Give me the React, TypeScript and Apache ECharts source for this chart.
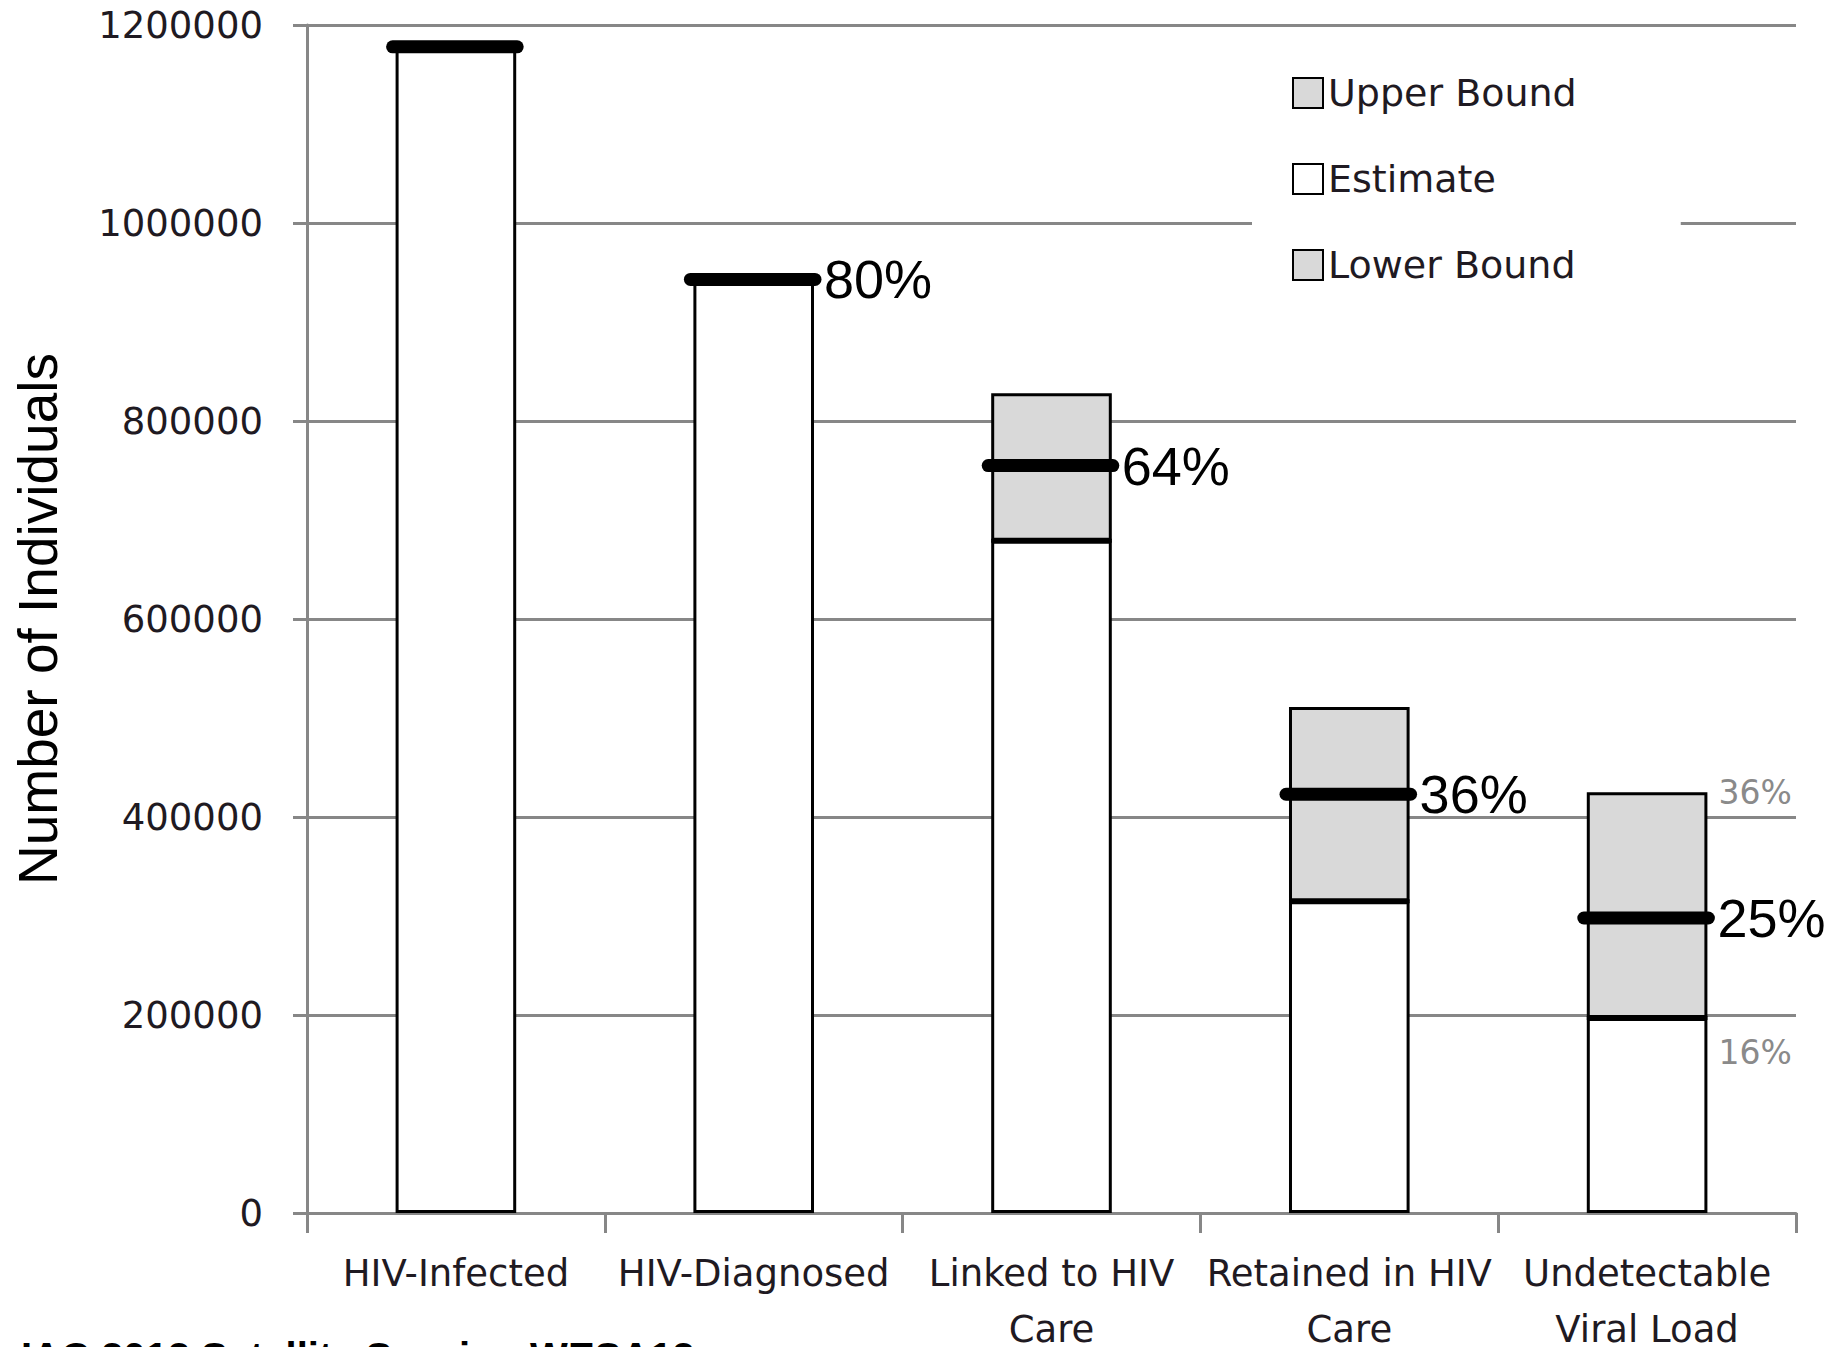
import React, { useEffect, useRef } from "react";
import * as echarts from "echarts";

const categories = [
  "HIV-Infected",
  "HIV-Diagnosed",
  "Linked to HIV\nCare",
  "Retained in HIV\nCare",
  "Undetectable\nViral Load",
];
const estimate = [1178000, 943000, 755000, 423000, 298000];
const lowerBound = [1178000, 943000, 679000, 315000, 197000];
const upperBound = [1178000, 943000, 828000, 511000, 425000];
const estimateLabels = ["", "80%", "64%", "36%", "25%"];
const upperLabels = ["", "", "", "", "36%"];
const lowerLabels = ["", "", "", "", "16%"];
const yTicks = [0, 200000, 400000, 600000, 800000, 1000000, 1200000];

const BAR_RATIO = 0.405;
const GRID_COLOR = "#878787";
const TEXT_COLOR = "#1f1a22";

export default function App() {
  const ref = useRef<HTMLDivElement>(null);

  useEffect(() => {
    if (!ref.current) return;
    const chart = echarts.init(ref.current, null, { renderer: "svg" });

    const baseWhite = lowerBound.map((v) => v);
    const lowerPart = estimate.map((e, i) => e - lowerBound[i]);
    const upperPart = upperBound.map((u, i) => u - estimate[i]);

    const barStyle = (color: string) => ({
      color,
      borderColor: "#000",
      borderWidth: 3,
    });

    chart.setOption({
      animation: false,
      backgroundColor: "#fff",
      grid: {
        left: 307,
        right: 41,
        top: 25,
        bottom: 134,
        containLabel: false,
        outerBoundsMode: "none",
      },
      legend: {
        orient: "vertical",
        left: 1252,
        top: 46,
        padding: [28, 104, 28, 40],
        backgroundColor: "#fff",
        itemWidth: 30,
        itemHeight: 30,
        itemGap: 48,
        icon: "rect",
        data: ["Upper Bound", "Estimate", "Lower Bound"],
        textStyle: {
          fontFamily: "DejaVu Sans",
          fontSize: 38,
          lineHeight: 38,
          color: TEXT_COLOR,
        },
        z: 10,
      },
      xAxis: {
        type: "category",
        data: categories,
        axisLine: { show: true, lineStyle: { color: GRID_COLOR, width: 3 } },
        axisTick: {
          show: true,
          length: 20,
          lineStyle: { color: GRID_COLOR, width: 3 },
        },
        axisLabel: {
          interval: 0,
          margin: 32,
          fontFamily: "DejaVu Sans",
          fontSize: 37,
          lineHeight: 56,
          color: TEXT_COLOR,
        },
      },
      yAxis: {
        type: "value",
        min: 0,
        max: 1200000,
        interval: 200000,
        name: "Number of Individuals",
        nameLocation: "middle",
        nameRotate: 90,
        nameGap: 242,
        nameTextStyle: {
          fontFamily: "Liberation Sans",
          fontSize: 55,
          color: "#000",
        },
        axisLine: { show: true, lineStyle: { color: GRID_COLOR, width: 3 } },
        axisTick: {
          show: true,
          length: 14,
          lineStyle: { color: GRID_COLOR, width: 3 },
        },
        axisLabel: {
          margin: 44,
          fontFamily: "DejaVu Sans",
          fontSize: 37,
          color: TEXT_COLOR,
          formatter: (v: number) => (yTicks.includes(v) ? String(v) : ""),
        },
        splitLine: { show: true, lineStyle: { color: GRID_COLOR, width: 3 } },
      },
      series: [
        {
          name: "Estimate",
          type: "bar",
          stack: "cascade",
          barWidth: BAR_RATIO * 100 + "%",
          data: baseWhite,
          itemStyle: barStyle("#ffffff"),
        },
        {
          name: "Lower Bound",
          type: "bar",
          stack: "cascade",
          data: lowerPart,
          itemStyle: barStyle("#d9d9d9"),
        },
        {
          name: "Upper Bound",
          type: "bar",
          stack: "cascade",
          data: upperPart,
          itemStyle: barStyle("#d9d9d9"),
        },
        {
          name: "EstimateLine",
          type: "custom",
          z: 5,
          data: estimate.map((v, i) => [i, v, upperBound[i], lowerBound[i]]),
          renderItem: (params: any, api: any) => {
            const i = api.value(0);
            const pt = api.coord([i, api.value(1)]);
            const up = api.coord([i, api.value(2)]);
            const lo = api.coord([i, api.value(3)]);
            const bw = api.size([1, 0])[0] * BAR_RATIO;
            const xl = pt[0] - bw / 2;
            const xr = pt[0] + bw / 2;
            const children: any[] = [
              {
                type: "line",
                shape: { x1: xl - 3, y1: pt[1], x2: xr + 1, y2: pt[1] },
                style: { stroke: "#000", lineWidth: 13, lineCap: "round" },
              },
            ];
            if (i >= 2) {
              children.push({
                type: "line",
                shape: { x1: xl, y1: lo[1], x2: xr, y2: lo[1] },
                style: { stroke: "#000", lineWidth: 4 },
              });
            }
            if (estimateLabels[i]) {
              children.push({
                type: "text",
                x: xr + 10,
                y: pt[1],
                style: {
                  text: estimateLabels[i],
                  fontFamily: "Liberation Sans",
                  fontSize: 54,
                  fill: "#000",
                  verticalAlign: "middle",
                  align: "left",
                },
              });
            }
            if (upperLabels[i]) {
              children.push({
                type: "text",
                x: xr + 11,
                y: up[1],
                style: {
                  text: upperLabels[i],
                  fontFamily: "DejaVu Sans",
                  fontSize: 33,
                  fill: "#8a8a8a",
                  verticalAlign: "middle",
                  align: "left",
                },
              });
            }
            if (lowerLabels[i]) {
              children.push({
                type: "text",
                x: xr + 11,
                y: lo[1] + 35,
                style: {
                  text: lowerLabels[i],
                  fontFamily: "DejaVu Sans",
                  fontSize: 33,
                  fill: "#8a8a8a",
                  verticalAlign: "middle",
                  align: "left",
                },
              });
            }
            return { type: "group", children };
          },
        },
      ],
      graphic: [
        {
          type: "text",
          left: 21,
          top: 1337,
          style: {
            text: "IAC 2012 Satellite Session WESA12",
            fontFamily: "Liberation Sans",
            fontWeight: "bold",
            fontSize: 40,
            fill: "#000",
          },
        },
      ],
    });

    return () => chart.dispose();
  }, []);

  return (
    <div
      ref={ref}
      style={{ position: "absolute", left: 0, top: 0, width: 1837, height: 1347 }}
    />
  );
}
